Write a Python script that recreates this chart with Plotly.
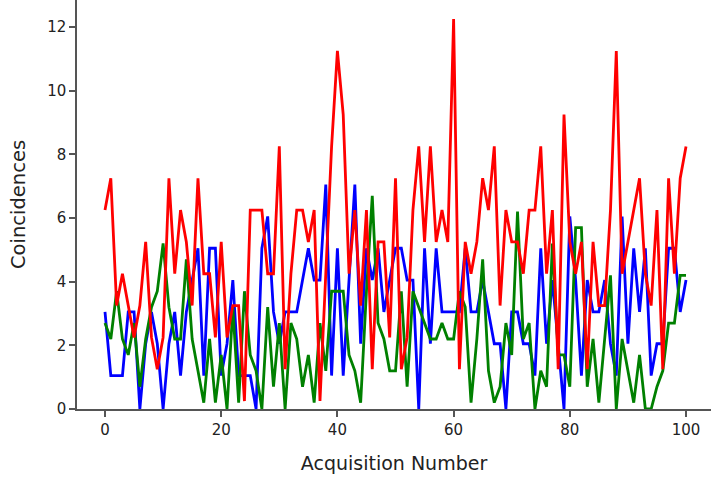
import plotly.graph_objects as go

acquisition = list(range(101))

blue_counts = [3.05, 1.05, 1.05, 1.05, 3.05, 3.05, 0, 2.05, 3.05, 2.05,
               0, 2.05, 3.05, 1.05, 3.05, 4.05, 5.05, 1.05, 5.05, 5.05,
               1.05, 2.05, 4.05, 1.05, 1.05, 1.05, 0, 5.05, 6.05, 3.05,
               2.05, 3.05, 3.05, 3.05, 4.05, 5.05, 4.05, 4.05, 7.05, 1.05,
               5.05, 1.05, 4.05, 7.05, 2.05, 5.05, 4.05, 5.05, 3.05, 4.05,
               5.05, 5.05, 4.05, 4.05, 0, 5.05, 2.05, 5.05, 3.05, 3.05,
               3.05, 3.05, 5.05, 3.05, 3.05, 4.05, 3.05, 2.05, 2.05, 0,
               3.05, 3.05, 2.05, 2.05, 1.05, 5.05, 2.05, 4.05, 2.05, 0,
               6.05, 4.05, 1.05, 4.05, 3.05, 3.05, 4.05, 2.05, 1.05, 6.05,
               2.05, 5.05, 3.05, 5.05, 1.05, 2.05, 2.05, 5.05, 5.05, 3.05,
               4.05]

green_counts = [2.7, 2.2, 3.7, 2.2, 1.7, 2.7, 0.7, 2.2, 3.2, 3.7,
                5.2, 3.2, 2.2, 2.2, 4.7, 2.2, 1.2, 0.2, 2.2, 0.2,
                1.7, 0, 3.2, 0.2, 3.7, 1.7, 1.2, 0, 3.2, 0.7,
                2.7, 0, 2.7, 2.2, 0.7, 1.7, 0.2, 2.7, 1.2, 3.7,
                3.7, 3.7, 1.7, 1.2, 0.2, 3.7, 6.7, 2.7, 2.2, 1.2,
                1.2, 3.7, 0.7, 3.7, 3.2, 2.7, 2.2, 2.2, 2.7, 2.2,
                2.2, 3.7, 3.2, 0.2, 2.2, 4.7, 1.2, 0.2, 0.7, 2.7,
                1.7, 6.2, 2.2, 2.7, 0, 1.2, 0.7, 5.2, 1.7, 1.7,
                0.7, 5.7, 5.7, 0.7, 2.2, 0.2, 2.2, 4.2, 0, 2.2,
                1.2, 0.2, 1.7, 0, 0, 0.7, 1.2, 2.7, 2.7, 4.2,
                4.2]

red_counts = [6.25, 7.25, 3.25, 4.25, 3.25, 2.25, 3.25, 5.25, 2.25, 1.25,
              2.25, 7.25, 4.25, 6.25, 5.25, 3.25, 7.25, 4.25, 4.25, 2.25,
              5.25, 2.25, 3.25, 3.25, 0.25, 6.25, 6.25, 6.25, 4.25, 4.25,
              8.25, 1.25, 4.25, 6.25, 6.25, 5.25, 6.25, 0.25, 4.25, 8.25,
              11.25, 9.25, 4.25, 6.25, 3.25, 6.25, 1.25, 5.25, 5.25, 2.25,
              7.25, 1.25, 2.25, 6.25, 8.25, 5.25, 8.25, 5.25, 6.25, 5.25,
              12.25, 1.25, 5.25, 4.25, 5.25, 7.25, 6.25, 8.25, 3.25, 6.25,
              5.25, 5.25, 4.25, 6.25, 6.25, 8.25, 4.25, 6.25, 1.25, 9.25,
              5.25, 4.25, 5.25, 1.25, 5.25, 3.25, 3.25, 6.25, 11.25, 4.25,
              5.25, 6.25, 7.25, 4.25, 3.25, 6.25, 1.25, 7.25, 4.25, 7.25,
              8.25]

x_ticks = [0, 20, 40, 60, 80, 100]
y_ticks = [0, 2, 4, 6, 8, 10, 12]

FONT = "DejaVu Sans"

fig = go.Figure()
for vals, col in [(blue_counts, "#0000ff"), (green_counts, "#008000"), (red_counts, "#ff0000")]:
    fig.add_trace(go.Scatter(x=acquisition, y=vals, mode="lines",
                             line=dict(color=col, width=2.8), showlegend=False))

axis_common = dict(showgrid=False, zeroline=False, showline=True, linecolor="#555555",
                   linewidth=1.5, ticks="outside", ticklen=6, tickwidth=1.5,
                   tickcolor="#555555", automargin=False,
                   tickfont=dict(family=FONT, size=15, color="#222222"))

fig.update_layout(
    width=711, height=480,
    margin=dict(l=77, r=0, t=0, b=71),
    plot_bgcolor="white", paper_bgcolor="white",
    font=dict(family=FONT, color="#222222"),
    xaxis=dict(range=[-4.82, 104.3], tickvals=x_ticks,
               title=dict(text="Acquisition Number", font=dict(family=FONT, size=19), standoff=19),
               **axis_common),
    yaxis=dict(range=[0, 12.85], tickvals=y_ticks,
               title=dict(text="Coincidences", font=dict(family=FONT, size=19.5), standoff=16),
               **axis_common),
)

fig.write_html("out.html", config={"displayModeBar": False},
               post_script="document.body.style.margin='0';document.body.style.padding='0';")
